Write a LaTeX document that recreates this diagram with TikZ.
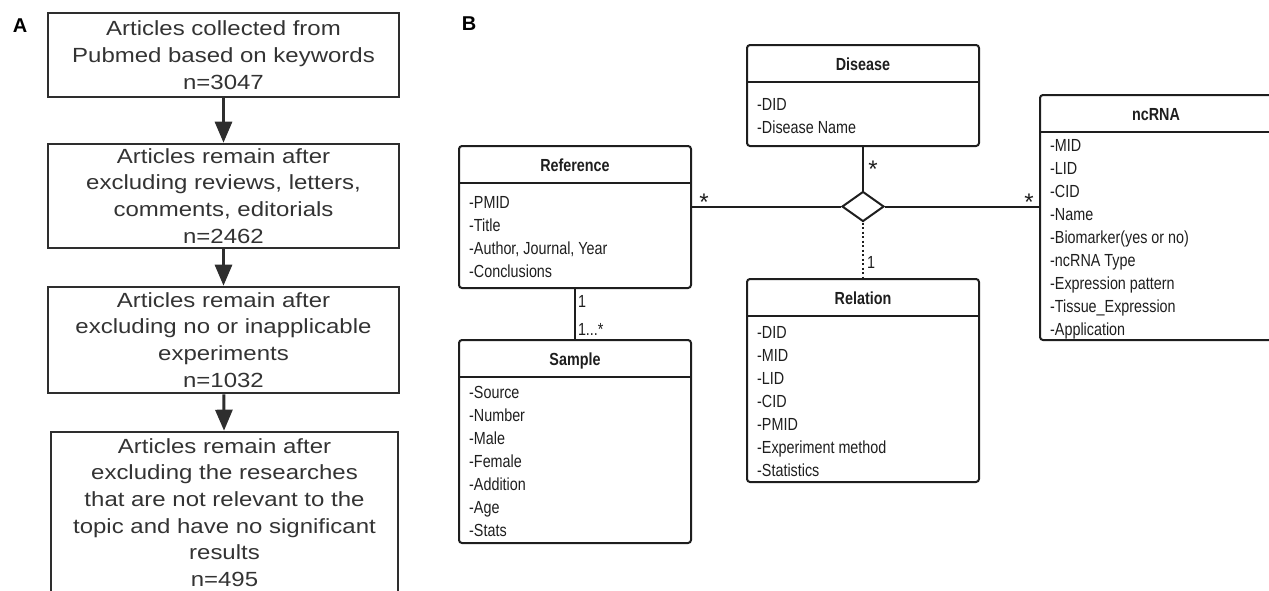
\documentclass[tikz,border=0pt]{standalone}
\usepackage{fontspec}
\setmainfont{Liberation Sans}
\newfontfamily\flowfont{Liberation Sans}[FakeStretch=1.17]
\newfontfamily\umlfont{Liberation Sans}[FakeStretch=0.82]
\usetikzlibrary{arrows.meta,shapes.geometric}

\definecolor{boxgray}{HTML}{2E2E2E}
\definecolor{textgray}{HTML}{333333}
\definecolor{umlblack}{HTML}{1E1E1E}

\tikzset{
  flowbox/.style={draw=boxgray, line width=2.6pt, minimum width=351pt, inner sep=0pt,
    align=center, text=textgray, font=\flowfont\fontsize{20.5}{26.7}\selectfont},
  flowarrow/.style={draw=boxgray, line width=3pt, -{Triangle[width=17pt,length=21pt]}},
  umlbox/.style={draw=umlblack, line width=2pt, rounded corners=3pt, minimum width=232pt, inner sep=0pt},
  umlline/.style={draw=umlblack, line width=2pt},
  umltitle/.style={anchor=base, inner sep=0pt, text=umlblack, font=\umlfont\bfseries\fontsize{17.5}{23}\selectfont},
  umlattr/.style={anchor=north west, inner sep=0pt, align=left, text=umlblack, font=\umlfont\fontsize{17.5}{23}\selectfont},
  multip/.style={inner sep=0pt, text=umlblack, font=\umlfont\fontsize{17.5}{23}\selectfont},
  manystar/.style={inner sep=0pt, text=umlblack, font=\fontsize{24}{24}\selectfont},
  panel/.style={inner sep=0pt, font=\bfseries\fontsize{20}{24}\selectfont}
}

\begin{document}
\begin{tikzpicture}[x=1pt, y=-1pt]

\clip (0,0) rectangle (1269,590);

% A: literature screening
\node[panel] (labelA) at (20,26) {A};

\node[flowbox, minimum height=84pt] (collected) at (223.5,55)
  {Articles collected from\\Pubmed based on keywords\\n=3047};
\node[flowbox, minimum height=104pt] (reviews) at (223.5,196)
  {Articles remain after\\excluding reviews, letters,\\comments, editorials\\n=2462};
\node[flowbox, minimum height=106pt] (experiments) at (223.5,340)
  {Articles remain after\\excluding no or inapplicable\\experiments\\n=1032};
\node[flowbox, minimum width=347pt, minimum height=161pt] (relevant) at (224.5,512.5)
  {Articles remain after\\excluding the researches\\that are not relevant to the\\topic and have no significant\\results\\n=495};

\draw[flowarrow] (collected) -- (reviews);
\draw[flowarrow] (reviews) -- (experiments);
\draw[flowarrow] (experiments) -- (relevant);

% B: database classes
\node[panel] (labelB) at (469,24) {B};

% Reference
\node[umlbox, minimum height=142pt] (reference) at (575,217) {};
\draw[umlline] ([yshift=-38pt]reference.north west) -- ([yshift=-38pt]reference.north east);
\node[umltitle] (referencetitle) at ([yshift=-26pt]reference.north) {Reference};
\node[umlattr] (referenceattr) at (469,191.8)
  {\strut-PMID\\-Title\\-Author, Journal, Year\\-Conclusions};

% Sample
\node[umlbox, minimum height=203pt] (sample) at (575,441.5) {};
\draw[umlline] ([yshift=-38pt]sample.north west) -- ([yshift=-38pt]sample.north east);
\node[umltitle] (sampletitle) at ([yshift=-26pt]sample.north) {Sample};
\node[umlattr] (sampleattr) at (469,381.8)
  {\strut-Source\\-Number\\-Male\\-Female\\-Addition\\-Age\\-Stats};

% Disease
\node[umlbox, minimum height=101pt] (disease) at (863,95.5) {};
\draw[umlline] ([yshift=-38pt]disease.north west) -- ([yshift=-38pt]disease.north east);
\node[umltitle] (diseasetitle) at ([yshift=-26pt]disease.north) {Disease};
\node[umlattr] (diseaseattr) at (757,93.8)
  {\strut-DID\\-Disease Name};

% Relation
\node[umlbox, minimum height=203pt] (relation) at (863,380.5) {};
\draw[umlline] ([yshift=-38pt]relation.north west) -- ([yshift=-38pt]relation.north east);
\node[umltitle] (relationtitle) at ([yshift=-26pt]relation.north) {Relation};
\node[umlattr] (relationattr) at (757,321.8)
  {\strut-DID\\-MID\\-LID\\-CID\\-PMID\\-Experiment method\\-Statistics};

% ncRNA
\node[umlbox, minimum height=245pt] (ncrna) at (1156,217.5) {};
\draw[umlline] ([yshift=-38pt]ncrna.north west) -- ([yshift=-38pt]ncrna.north east);
\node[umltitle] (ncrnatitle) at ([yshift=-26pt]ncrna.north) {ncRNA};
\node[umlattr] (ncrnaattr) at (1050,134.8)
  {\strut-MID\\-LID\\-CID\\-Name\\-Biomarker(yes or no)\\-ncRNA Type\\-Expression pattern\\-Tissue\_Expression\\-Application};

% association diamond
\node[diamond, draw=umlblack, line width=2pt, fill=white, inner sep=0pt,
  minimum width=42pt, minimum height=30pt] (assoc) at (863,206.5) {};

\draw[umlline] (assoc.west -| reference.east)
  node[manystar, anchor=base west, xshift=6.3pt, yshift=-4pt] {*} -- (assoc.west);
\draw[umlline] (assoc.east) -- (assoc.east -| ncrna.west)
  node[manystar, anchor=base east, xshift=-4.3pt, yshift=-4pt] {*};
\draw[umlline] (disease.south)
  node[manystar, anchor=base west, xshift=4.3pt, yshift=-30pt] {*} -- (assoc.north);
\draw[umlline, dash pattern=on 2pt off 2.5pt] (assoc.south) -- (relation.north)
  node[multip, anchor=base west, xshift=3pt, yshift=10pt] {1};
\draw[umlline] (reference.south)
  node[multip, anchor=base west, xshift=2pt, yshift=-18pt] {1} -- (sample.north)
  node[multip, anchor=base west, xshift=2pt, yshift=4pt] {1...*};

\end{tikzpicture}
\end{document}
